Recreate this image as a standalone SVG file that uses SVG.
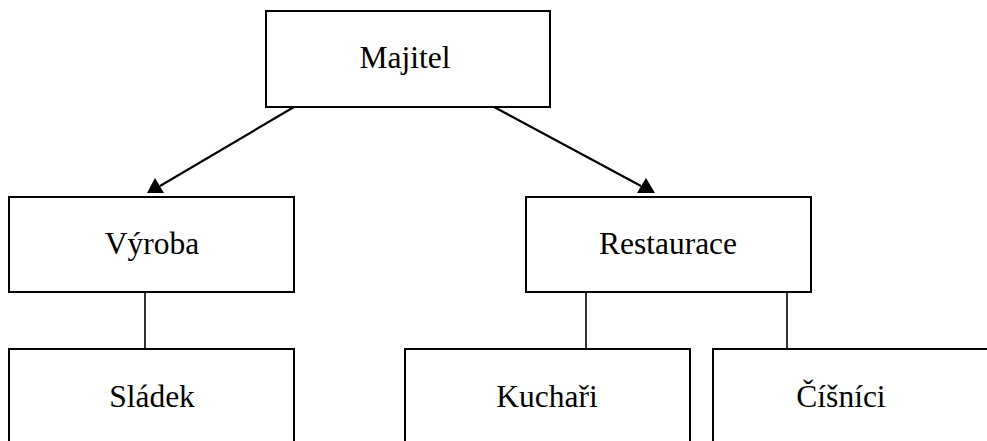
<svg xmlns="http://www.w3.org/2000/svg" width="987" height="441" viewBox="0 0 987 441">
<style>
.box{fill:#fff;stroke:#000;stroke-width:2}
.lbl{font-family:"Liberation Serif","Times New Roman",serif;font-size:31.5px;fill:#000;text-anchor:middle}
.arr{stroke:#000;stroke-width:2.2;fill:none}
.ln{stroke:#000;stroke-width:1.6;fill:none}
.head{fill:#000}
</style>
<rect width="987" height="441" fill="#fff"/>
<g id="connectors">
<path class="arr" d="M294,107 L160,186"/>
<polygon class="head" points="147,193 164,193 155,178"/>
<path class="arr" d="M494,107 L641,186"/>
<polygon class="head" points="655,193 637,193 646,178"/>
<path class="ln" d="M145,292 V349"/>
<path class="ln" d="M586,292 V349"/>
<path class="ln" d="M787,292 V349"/>
</g>
<g id="majitel">
<rect class="box" x="266" y="11" width="284" height="96"/>
<text class="lbl" x="405" y="68">Majitel</text>
</g>
<g id="vyroba">
<rect class="box" x="9" y="197" width="285" height="95"/>
<text class="lbl" x="152" y="254">Výroba</text>
</g>
<g id="restaurace">
<rect class="box" x="526" y="197" width="285" height="95"/>
<text class="lbl" x="668" y="254">Restaurace</text>
</g>
<g id="sladek">
<rect class="box" x="9" y="349" width="285" height="110"/>
<text class="lbl" x="152" y="407">Sládek</text>
</g>
<g id="kuchari">
<rect class="box" x="405" y="349" width="285" height="110"/>
<text class="lbl" x="547" y="407">Kuchaři</text>
</g>
<g id="cisnici">
<rect class="box" x="713" y="349" width="290" height="110"/>
<text class="lbl" x="841" y="407">Číšníci</text>
</g>
</svg>
